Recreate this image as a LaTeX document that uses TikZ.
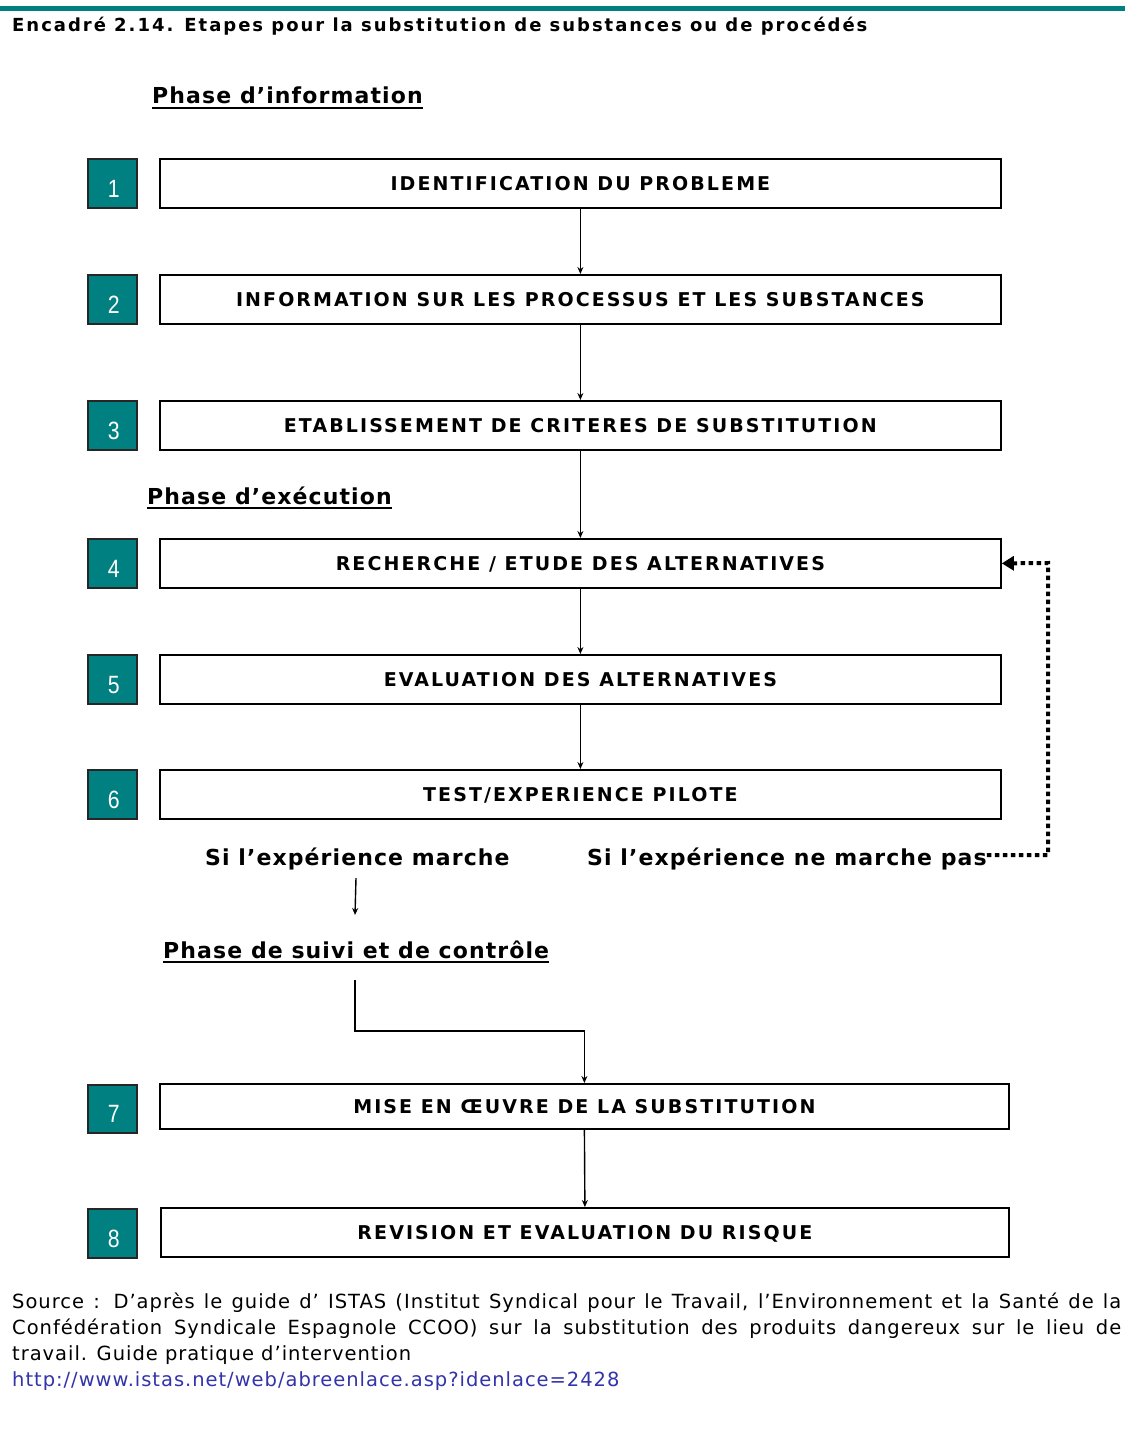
\documentclass[tikz,border=0pt]{standalone}
\usepackage{fontspec}
\setmainfont{DejaVu Sans}
\newfontfamily\numfont{Liberation Sans}[FakeStretch=0.85]
\newfontfamily\srcfont{DejaVu Sans}[LetterSpace=5]
\newfontfamily\titlefont{DejaVu Sans}[LetterSpace=11]
\newfontfamily\boxfont{DejaVu Sans}[LetterSpace=11]
\newfontfamily\labfont{DejaVu Sans}[LetterSpace=5]
\usetikzlibrary{arrows.meta}
\definecolor{tealc}{RGB}{0,128,128}
\definecolor{linkblue}{RGB}{51,51,170}
\begin{document}
\begin{tikzpicture}[x=1pt,y=-1pt,
  stepbox/.style={draw=black, line width=1.8pt, minimum width=841pt, minimum height=49pt,
    anchor=north west, inner sep=0pt, text height=14pt, text depth=0pt,
    font=\boxfont\fontsize{19}{22}\selectfont\bfseries},
  numbox/.style={draw=black!85, fill=tealc, line width=1.8pt, minimum width=49pt, minimum height=49pt,
    anchor=north west, inner sep=0pt, text=white, text height=28pt, text depth=0pt,
    font=\numfont\fontsize{25}{25}\selectfont},
  arr/.style={line width=1.4pt, -{Stealth[length=7pt,width=6pt]}},
  dotarr/.style={line width=4pt, dash pattern=on 4.5pt off 3.5pt, -{Triangle[length=12pt,width=14pt]}},
  lab/.style={anchor=base west, inner sep=0pt, font=\labfont\fontsize{22}{25}\selectfont\bfseries},
  ul/.style={line width=2pt}
]
\useasboundingbox (0,0) rectangle (1125,1439);
\fill[white] (0,0) rectangle (1125,1439);
\fill[tealc] (0,6) rectangle (1125,11);

\node[anchor=base west, inner sep=0pt, font=\titlefont\fontsize{18}{21}\selectfont\bfseries] (title) at (12,32)
  {Encadré 2.14. Etapes pour la substitution de substances ou de procédés};

% phase labels
\node[lab] (ph1) at (152,104) {Phase d’information};
\draw[ul] ([yshift=-4pt]ph1.base west) -- ([yshift=-4pt]ph1.base east);
\node[lab] (ph2) at (147,504) {Phase d’exécution};
\draw[ul] ([yshift=-4pt]ph2.base west) -- ([yshift=-4pt]ph2.base east);
\node[lab] (ph3) at (163,958) {Phase de suivi et de contrôle};
\draw[ul] ([yshift=-4pt]ph3.base west) -- ([yshift=-4pt]ph3.base east);

% step boxes
\node[stepbox] (b1) at (159,158) {IDENTIFICATION DU PROBLEME};
\node[stepbox] (b2) at (159,274) {INFORMATION SUR LES PROCESSUS ET LES SUBSTANCES};
\node[stepbox] (b3) at (159,400) {ETABLISSEMENT DE CRITERES DE SUBSTITUTION};
\node[stepbox] (b4) at (159,538) {RECHERCHE / ETUDE DES ALTERNATIVES};
\node[stepbox] (b5) at (159,654) {EVALUATION DES ALTERNATIVES};
\node[stepbox] (b6) at (159,769) {TEST/EXPERIENCE PILOTE};
\node[stepbox, minimum width=849pt, minimum height=45pt] (b7) at (159,1083) {MISE EN ŒUVRE DE LA SUBSTITUTION};
\node[stepbox, minimum width=848pt] (b8) at (160,1207) {REVISION ET EVALUATION DU RISQUE};

% number boxes
\node[numbox] (n1) at (87,158) {\hspace{3pt}1};
\node[numbox] (n2) at (87,274) {\hspace{3pt}2};
\node[numbox] (n3) at (87,400) {\hspace{3pt}3};
\node[numbox] (n4) at (87,538) {\hspace{3pt}4};
\node[numbox] (n5) at (87,654) {\hspace{3pt}5};
\node[numbox] (n6) at (87,769) {\hspace{3pt}6};
\node[numbox, minimum height=48pt] (n7) at (87,1084) {\hspace{3pt}7};
\node[numbox] (n8) at (87,1208) {\hspace{3pt}8};

% arrows
\draw[arr] (b1.south) -- (b2.north);
\draw[arr] (b2.south) -- (b3.north);
\draw[arr] (b3.south) -- (b4.north);
\draw[arr] (b4.south) -- (b5.north);
\draw[arr] (b5.south) -- (b6.north);
\draw[arr] (b7.south) -- (b8.north);

% outcomes
\node[lab] (ok) at (205,865) {Si l’expérience marche};
\node[lab] (nok) at (587,865) {Si l’expérience ne marche pas};
\coordinate (m0) at (356,878);
\coordinate (m1) at (355,915);
\draw[arr] (m0) -- (m1);

\coordinate (d0) at (1048,855);
\coordinate (d1) at (1048,563);
\draw[dotarr] (nok.east |- d0) -- (d0) -- (d1) -- (b4.east);

\coordinate (s0) at (355,980);
\coordinate (s1) at (355,1031);
\draw[arr] (s0) -- (s1) -| (b7.north);

% source
\node[anchor=north west, inner sep=0pt, text width=1109pt, align=justify,
  font=\srcfont\fontsize{19.5}{26}\selectfont] (src) at (12,1293)
  {Source : D’après le guide d’ ISTAS (Institut Syndical pour le Travail, l’Environnement et la Santé de la\linebreak
   Confédération Syndicale Espagnole CCOO) sur la substitution des produits dangereux sur le lieu de\linebreak
   travail. Guide pratique d’intervention\\
   \textcolor{linkblue}{http://www.istas.net/web/abreenlace.asp?idenlace=2428}};
\end{tikzpicture}
\end{document}
